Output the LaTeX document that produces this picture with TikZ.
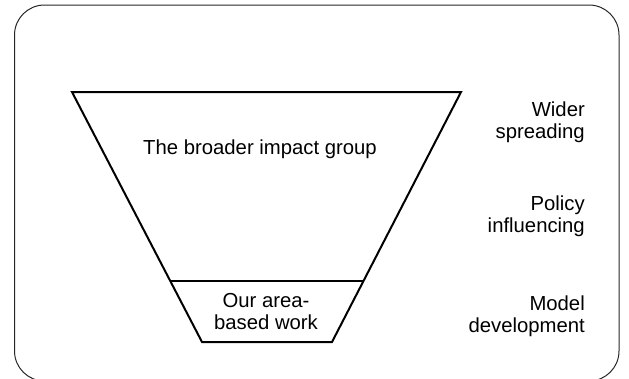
\documentclass[tikz,border=0pt]{standalone}
\usepackage{fontspec}
\setmainfont{Liberation Sans}
\begin{document}
\begin{tikzpicture}[x=1pt,y=-1pt,
  lbl/.style={font=\fontsize{20.3}{22}\selectfont, inner sep=0pt},
  rlbl/.style={lbl, align=right, anchor=east},
  funnel/.style={line width=2pt, line join=miter}]
\useasboundingbox (0,0) rectangle (629,378);
\clip (0,0) rectangle (629,378);
\draw[line width=1pt, draw=black!85, rounded corners=30pt] (14.5,5) rectangle (619,381);
\coordinate (tl) at (72,92);
\coordinate (tr) at (461,92);
\coordinate (ml) at (170,281);
\coordinate (mr) at (363,281);
\coordinate (bl) at (202,342);
\coordinate (br) at (332,342);
\draw[funnel] (tl) -- (tr) -- (br) -- (bl) -- cycle;
\draw[funnel] (ml) -- (mr);
\node[lbl] (big) at (260,149) {The broader impact group};
\node[lbl, align=center] (small) at (266,312) {Our area-\\based work};
\node[rlbl] (wider) at (585,122) {Wider\\spreading};
\node[rlbl] (policy) at (585,216) {Policy\\influencing};
\node[rlbl] (model) at (585,316) {Model\\development};
\end{tikzpicture}
\end{document}
